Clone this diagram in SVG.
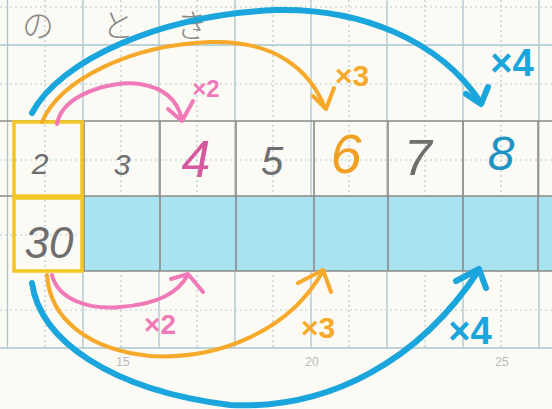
<svg xmlns="http://www.w3.org/2000/svg" width="552" height="409" viewBox="0 0 552 409">
<style>
.grid{stroke:#a9c6cf;stroke-width:1.3;fill:none}
.dot{stroke:#b5cbd2;stroke-width:1.2;stroke-dasharray:2 3;fill:none}
.pen{stroke:#8a8a88;stroke-width:1.6;fill:none}
.num{font-family:"Liberation Sans","DejaVu Sans",sans-serif;fill:#6e6e6e;text-anchor:middle}
.jp{font-family:"Noto Sans CJK JP",sans-serif;fill:#8a8a8a;font-weight:300;text-anchor:middle}
.pink{stroke:#f07ab8;fill:none;stroke-width:4;stroke-linecap:round;stroke-linejoin:round}
.orange{stroke:#f6a92b;fill:none;stroke-width:4;stroke-linecap:round;stroke-linejoin:round}
.blue{stroke:#1aa6dc;fill:none;stroke-width:6;stroke-linecap:round;stroke-linejoin:round}
.lbl{font-family:"Liberation Sans","DejaVu Sans",sans-serif;font-weight:bold;text-anchor:middle}
.margin{font-family:"Liberation Sans",sans-serif;font-size:12px;fill:#b8b8b8;text-anchor:middle}
.ybox{fill:none;stroke:#f2c623;stroke-width:3.5}
</style>
<rect width="552" height="409" fill="#fbfaf4"/>
<g id="grid">
<path class="grid" d="M7.5,0V348M83,0V348M159,0V348M235,0V348M311,0V348M387,0V348M463,0V348M539,0V348"/>
<path class="dot" d="M45,0V348M121,0V348M197,0V348M273,0V348M349,0V348M425,0V348M501,0V348"/>
<path class="grid" d="M0,45H552M0,348H552"/>
<path class="dot" d="M0,7H552M0,84H552M0,160H552M0,235H552M0,310H552"/>
</g>
<g id="margin-numbers">
<text class="margin" x="123" y="366">15</text>
<text class="margin" x="312" y="366">20</text>
<text class="margin" x="502" y="366">25</text>
</g>
<g id="title">
<text class="jp" x="38" y="37" font-size="32">の</text>
<text class="jp" x="118" y="37" font-size="32">と</text>
<text class="jp" x="192" y="37" font-size="32">き</text>
</g>
<rect id="blue-row" x="84" y="196" width="468" height="75" fill="#a9e2f0"/>
<g id="table">
<path class="pen" d="M0,121H552M0,196H552M84,271H552"/>
<path class="pen" d="M84,121V271M160,121V271M236,121V271M314,121V271M388,121V271M463,121V271M538,121V271"/>
</g>
<g id="cell-2"><rect class="ybox" x="14" y="122" width="68" height="74"/><text class="num" x="40" y="174" font-size="30" font-style="italic">2</text></g>
<g id="cell-30"><rect class="ybox" x="14" y="198" width="68" height="73"/><text class="num" x="49" y="258" font-size="44" font-style="italic">30</text></g>
<g id="cell-3"><text class="num" x="122" y="175" font-size="30" font-style="italic">3</text></g>
<g id="cell-4"><text class="num" x="196" y="177" font-size="52" style="fill:#d6589e" font-style="italic">4</text></g>
<g id="cell-5"><text class="num" x="272" y="175" font-size="40" font-style="italic">5</text></g>
<g id="cell-6"><text class="num" x="346" y="173" font-size="56" style="fill:#f0a125" font-style="italic">6</text></g>
<g id="cell-7"><text class="num" x="418" y="175" font-size="50" font-style="italic">7</text></g>
<g id="cell-8"><text class="num" x="501" y="170" font-size="48" style="fill:#1e93c4" font-style="italic">8</text></g>
<g id="connectors">
<path class="pink" d="M57,124C62,95 110,80 140,84C165,88 178,100 182,120"/>
<path class="pink" d="M168,109L182,121L193,101"/>
<path class="orange" d="M42,122C60,80 130,45 210,42C275,40 310,70 325,108"/>
<path class="orange" d="M313,96L326,109L334,88"/>
<path class="blue" d="M32,113C60,60 160,15 276,10C360,8 440,40 481,103"/>
<path class="blue" d="M466,94L481,104L488,87"/>
<path class="pink" d="M52,275C58,300 90,310 120,307C160,304 178,292 188,275"/>
<path class="pink" d="M171,279L188,274L203,292"/>
<path class="orange" d="M47,275C50,320 90,350 150,356C220,360 290,330 323,271"/>
<path class="orange" d="M298,283L323,270L331,292"/>
<path class="blue" d="M32,283C40,340 110,390 230,405C330,410 420,360 479,270"/>
<path class="blue" d="M456,281L479,269L486,288"/>
</g>
<g id="labels">
<text class="lbl" x="206" y="97" font-size="24" fill="#f07ab8">×2</text>
<text class="lbl" x="352" y="86" font-size="30" fill="#f6a92b">×3</text>
<text class="lbl" x="512" y="76" font-size="38" fill="#1aa6dc">×4</text>
<text class="lbl" x="160" y="334" font-size="28" fill="#f07ab8">×2</text>
<text class="lbl" x="318" y="338" font-size="30" fill="#f6a92b">×3</text>
<text class="lbl" x="470" y="344" font-size="38" fill="#1aa6dc">×4</text>
</g>
</svg>
